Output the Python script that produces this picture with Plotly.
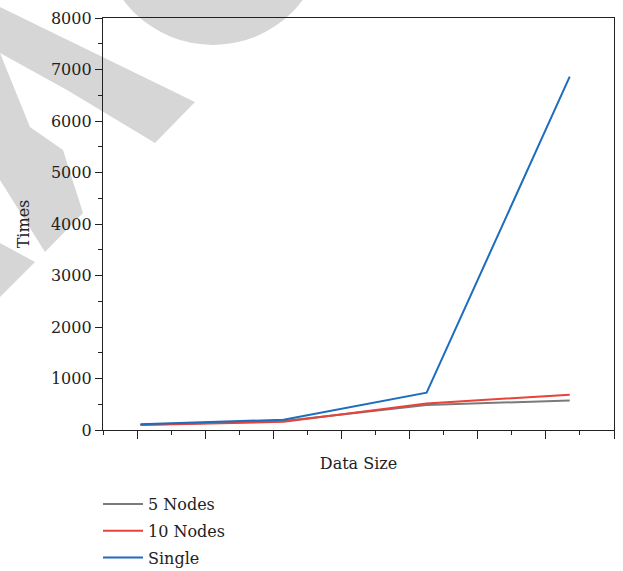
import plotly.graph_objects as go

# Data sizes (positions along the unlabelled x axis) and run times
data_size = [1.05, 3.15, 5.25, 7.35]
nodes_5 = [100, 175, 485, 575]
nodes_10 = [95, 160, 515, 686]
single = [110, 200, 725, 6860]

series_names = ["5 Nodes", "10 Nodes", "Single"]
series_values = [nodes_5, nodes_10, single]
series_colors = ["#7a7a7a", "#e8423a", "#1c6dbd"]

FONT = "DejaVu Serif"
W, H = 623, 571
L, R, T, B = 103, 9, 18, 141
PW, PH = W - L - R, H - T - B


def to_paper(px, py):
    return (px - L) / PW, (H - B - py) / PH


def poly_path(points):
    pts = [to_paper(x, y) for x, y in points]
    return "M " + " L ".join(f"{x:.4f},{y:.4f}" for x, y in pts) + " Z"


fig = go.Figure()
for i, (name, vals, col) in enumerate(zip(series_names, series_values, series_colors)):
    fig.add_trace(go.Scatter(
        x=data_size, y=vals, name=name, mode="lines",
        line=dict(color=col, width=2),
        legendgroup=f"g{i}",
    ))

# faint background stamp
stamp = "#d6d6d6"
shapes = []
cx, cy, r = 213, -67, 112
x0, y0 = to_paper(cx - r, cy + r)
x1, y1 = to_paper(cx + r, cy - r)
shapes.append(dict(type="circle", xref="paper", yref="paper", x0=x0, y0=y0, x1=x1, y1=y1,
                   fillcolor=stamp, line=dict(width=0), layer="below"))
for pts in [
    [(0, 7), (195, 102), (155, 143), (67, 90), (0, 53)],
    [(0, 53), (30, 127), (63, 150), (83, 213), (45, 252), (0, 180)],
    [(0, 243), (35, 262), (0, 297)],
]:
    shapes.append(dict(type="path", xref="paper", yref="paper", path=poly_path(pts),
                       fillcolor=stamp, line=dict(width=0), layer="below"))

axis_common = dict(
    showline=True, linecolor="#222", linewidth=1.3, mirror=True,
    showgrid=False, zeroline=False, ticks="outside", tickcolor="#222", tickwidth=1.2,
)

fig.update_layout(
    width=W, height=H,
    margin=dict(l=L, r=R, t=T, b=B),
    paper_bgcolor="rgba(0,0,0,0)", plot_bgcolor="rgba(0,0,0,0)",
    font=dict(family=FONT, size=16, color="#222"),
    shapes=shapes,
    showlegend=True,
    legend=dict(
        xref="paper", yref="container",
        x=to_paper(98, 0)[0], y=1 - 487 / H, xanchor="left", yanchor="top",
        bgcolor="rgba(0,0,0,0)", font=dict(family=FONT, size=16, color="#222"),
        tracegroupgap=3, itemwidth=40,
    ),
    xaxis=dict(
        **axis_common, range=[0.5, 8], tick0=1, dtick=1, ticklen=8, showticklabels=False,
        minor=dict(ticks="outside", dtick=0.5, tick0=0.5, ticklen=4, tickcolor="#222"),
        title=dict(text="Data Size", standoff=19, font=dict(family=FONT, size=16)),
    ),
    yaxis=dict(
        **axis_common, range=[0, 8000], tick0=0, dtick=1000, ticklen=7,
        minor=dict(ticks="outside", dtick=500, ticklen=4, tickcolor="#222"),
        tickfont=dict(family=FONT, size=16, color="#222"),
        title=dict(text="Times", standoff=17, font=dict(family=FONT, size=16)),
    ),
)

fig.write_html("out.html")
